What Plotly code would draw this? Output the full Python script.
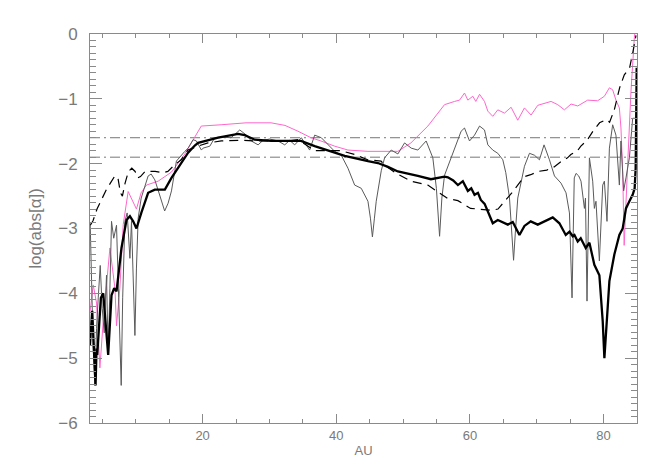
import plotly.graph_objects as go

# ---- data (AU, log|alpha|) ----
black_x = [3.14, 3.48, 3.98, 4.13, 4.23, 4.78, 5.13, 5.87, 6.37, 6.77, 7.12, 7.86, 8.61, 9.12, 9.61,
           10.1, 10.85, 11.85, 12.85, 14.35, 15.34, 17.34, 17.83, 18.83, 19.33, 22.32, 25.31, 26.31,
           27.8, 30.24, 32.79, 34.72, 36.77, 38.76, 41.26, 44.74, 46.23, 47.73, 49.22, 52.21, 54.16,
           56.2, 56.7, 57.5, 58.2, 58.94, 59.69, 60.2, 60.69, 61.2, 61.63, 62.2, 62.68, 63.42, 64.17,
           64.62, 65.67, 66.41, 67.41, 68.16, 69.1, 70.15, 71.15, 72.39, 73.39, 74.34, 74.9, 75.39,
           75.64, 76.13, 76.58, 77.33, 77.88, 78.62, 79.37, 79.87, 80.12, 80.46, 80.87, 81.61, 82.36,
           82.86, 83.35, 83.86, 84.35, 84.65, 84.8, 84.88, 84.95]
black_y = [-4.8, -4.27, -5.42, -4.85, -4.95, -4.07, -4.0, -4.95, -4.03, -3.92, -3.97, -3.3, -2.87, -2.81, -2.89,
           -3.0, -2.75, -2.45, -2.4, -2.4, -2.22, -1.91, -1.83, -1.72, -1.68, -1.6, -1.54, -1.56,
           -1.63, -1.65, -1.65, -1.65, -1.73, -1.8, -1.88, -1.96, -1.99, -2.05, -2.12, -2.19, -2.24,
           -2.2, -2.21, -2.26, -2.33, -2.27, -2.42, -2.38, -2.48, -2.45, -2.56, -2.62, -2.73, -2.92, -2.87,
           -2.89, -2.94, -2.9, -3.1, -2.96, -2.89, -2.94, -2.89, -2.83, -2.92, -3.1, -3.05, -3.12,
           -3.1, -3.2, -3.15, -3.3, -3.22, -3.56, -3.72, -4.43, -5.0, -4.43, -3.81, -3.4, -3.1,
           -3.0, -2.69, -2.58, -2.48, -2.38, -2.07, -1.3, -0.52]

gray_x = [3.18, 3.41, 3.63, 3.89, 4.13, 4.38, 4.68, 4.98, 5.28, 5.62, 5.87, 6.13, 6.37, 6.7, 7.12, 7.44,
          7.82, 8.04, 8.37, 8.71, 9.12, 9.36, 9.61, 9.87, 10.1, 10.36, 10.81, 11.36, 11.85, 12.3, 12.85,
          13.35, 13.84, 14.32, 14.84, 15.34, 15.84, 16.08, 17.34, 17.83, 18.58, 19.07, 19.82, 20.07,
          21.08, 21.82, 22.77, 24.26, 25.56, 26.55, 27.29, 28.3, 29.04, 30.04, 31.29, 32.29, 33.03,
          33.78, 34.77, 35.52, 36.02, 36.77, 37.76, 39.76, 40.75, 41.75, 42.75, 43.74, 44.74, 45.11,
          45.41, 45.71, 45.98, 46.73, 47.23, 48.22, 49.22, 50.22, 51.21, 52.21, 53.45, 54.45, 54.98,
          55.46, 55.8, 56.2, 57.19, 58.19, 58.68, 59.19, 59.94, 60.69, 61.44, 62.18, 62.68, 63.42,
          64.17, 64.92, 65.37, 65.92, 66.27, 66.53, 66.79, 67.16, 68.16, 68.91, 69.66, 70.4, 71.09,
          71.9, 72.65, 73.63, 74.38, 74.89, 75.28, 75.61, 75.88, 76.28, 76.62, 77.13, 77.29, 77.52,
          77.88, 78.37, 78.62, 78.86, 79.37, 79.87, 80.12, 80.51, 80.87, 81.36, 81.85, 82.36, 82.6,
          83.0, 83.35, 83.86, 84.35, 84.7, 84.95]
gray_y = [-2.92, -3.92, -4.85, -5.42, -4.54, -4.07, -3.57, -4.23, -4.61, -3.72, -4.95, -3.92, -2.89, -3.15, -2.95, -4.07,
          -5.42, -4.07, -2.89, -2.76, -3.46, -2.89, -3.61, -4.65, -3.61, -2.84, -2.53, -2.33, -2.19, -2.16, -2.25,
          -2.41, -2.58, -2.73, -2.61, -2.42, -2.11, -1.96, -1.81, -1.76, -1.63, -1.65, -1.79, -1.76,
          -1.73, -1.6, -1.59, -1.6, -1.48, -1.56, -1.65, -1.71, -1.64, -1.62, -1.65, -1.71, -1.64,
          -1.71, -1.6, -1.71, -1.79, -1.56, -1.6, -1.81, -1.87, -2.07, -2.33, -2.38, -2.58, -2.84,
          -3.13, -2.84, -2.58, -2.11, -1.91, -1.79, -1.85, -1.68, -1.76, -1.79, -1.65, -1.91, -2.38,
          -3.12, -2.53, -2.18, -1.91, -1.65, -1.5, -1.45, -1.65, -1.56, -1.42, -1.48, -1.71, -1.79,
          -1.84, -1.94, -2.14, -2.53, -3.07, -3.49, -3.07, -2.53, -2.04, -1.84, -1.87, -1.94, -1.71,
          -1.94, -2.19, -2.3, -2.45, -2.76, -4.07, -2.22, -2.15, -2.19, -2.27, -2.69, -2.53, -4.12,
          -1.91, -2.27, -2.69, -2.58, -3.5, -2.33, -2.27, -2.89, -1.76, -1.4, -1.56, -2.33, -1.65,
          -2.42, -2.22, -1.91, -1.3, -1.3, -1.3]

dash_x = [3.2, 3.6, 4.2, 4.9, 5.6, 6.2, 6.8, 7.3, 7.7, 8.0, 8.4, 8.9, 9.4, 9.9, 10.3, 10.7, 11.4, 12.9,
          14.1, 14.8, 15.8, 16.8, 17.8, 19.3, 20.8, 22.8, 24.3, 25.8, 27.8, 30.2, 32.8, 34.3, 35.8,
          36.8, 38.8, 40.7, 42.8, 44.7, 46.7, 47.2, 49.0, 51.2, 53.7, 55.0, 56.7, 58.2, 59.2, 60.1,
          61.2, 62.2, 63.2, 64.2, 65.2, 66.2, 67.6, 68.2, 69.1, 70.2, 71.5, 72.6, 73.6, 74.6, 75.1,
          76.1, 76.6, 77.6, 78.4, 79.4, 80.4, 80.9, 81.6, 82.4, 83.1, 83.9, 84.4, 84.85]
dash_y = [-2.95, -2.88, -2.7, -2.55, -2.4, -2.3, -2.2, -2.2, -2.45, -2.5, -2.3, -2.12, -2.07, -2.12, -2.22, -2.2, -2.12, -2.12,
          -2.14, -2.12, -2.02, -1.94, -1.79, -1.73, -1.68, -1.65, -1.64, -1.64, -1.65, -1.65, -1.65, -1.63, -1.73,
          -1.8, -1.8, -1.8, -1.86, -1.94, -1.96, -2.02, -2.15, -2.27, -2.33, -2.42, -2.54, -2.57, -2.64, -2.69,
          -2.7, -2.71, -2.72, -2.7, -2.58, -2.46, -2.27, -2.2, -2.17, -2.12, -2.1, -2.05, -1.97, -1.91, -1.86,
          -1.8, -1.73, -1.63, -1.5, -1.37, -1.32, -1.36, -1.17, -0.83, -0.63, -0.52, -0.27, -0.02]

pink_x = [3.14, 3.63, 4.13, 4.63, 5.13, 5.62, 6.13, 6.88, 7.12, 7.62, 8.12, 8.86, 9.61, 10.1, 10.8, 11.6,
          13.35, 15.34, 17.34, 18.83, 19.8, 22.77, 26.5, 30.24, 32.33, 34.28, 36.22, 37.71, 39.76,
          41.75, 44.74, 49.22, 51.17, 53.71, 56.2, 57.7, 58.45, 59.19, 59.69, 60.43, 60.88, 61.44,
          62.18, 62.68, 63.42, 64.17, 65.17, 66.16, 67.16, 68.16, 69.15, 70.15, 71.15, 72.14, 73.14,
          74.14, 75.13, 76.13, 77.62, 79.11, 80.12, 80.87, 81.36, 81.85, 82.36, 82.6, 82.86, 83.08,
          83.6, 84.1, 84.6, 84.84, 85.0]
pink_y = [-4.3, -3.87, -4.15, -5.15, -4.43, -3.81, -3.3, -3.92, -4.5, -3.92, -2.94, -2.43, -2.58, -2.7, -2.45, -2.33,
          -2.27, -2.13, -1.85, -1.6, -1.42, -1.4, -1.37, -1.37, -1.41, -1.5, -1.6, -1.65, -1.73,
          -1.79, -1.81, -1.81, -1.68, -1.42, -1.09, -1.04, -1.02, -0.91, -1.02, -0.96, -1.04, -0.93,
          -1.04, -1.19, -1.27, -1.17, -1.22, -1.13, -1.33, -1.14, -1.25, -1.1, -1.07, -1.04, -1.09,
          -1.17, -1.08, -1.11, -1.02, -1.03, -0.96, -0.83, -0.86, -1.02, -1.14, -1.45, -2.12, -3.26,
          -2.02, -0.88, -0.06, 0.1, 0.3]

ref_levels = [-1.6, -1.9]
x_range = [3.15, 85.0]
y_range = [-6.0, 0.0]
y_ticks = [-6, -5, -4, -3, -2, -1, 0]
y_ticktext = ["\u22126", "\u22125", "\u22124", "\u22123", "\u22122", "\u22121", "0"]
x_ticks = [20, 40, 60, 80]

AXIS = "#8a8a8a"
TXT = "#7a7a7a"

fig = go.Figure()
for lvl in ref_levels:
    fig.add_trace(go.Scatter(x=x_range, y=[lvl, lvl], mode="lines",
                             line=dict(color="#777777", width=1, dash="10px,4px,2px,4px"),
                             hoverinfo="skip", showlegend=False))
fig.add_trace(go.Scatter(x=pink_x, y=pink_y, mode="lines",
                         line=dict(color="#ff66cc", width=1), showlegend=False))
fig.add_trace(go.Scatter(x=gray_x, y=gray_y, mode="lines",
                         line=dict(color="#5a5a5a", width=1), showlegend=False))
fig.add_trace(go.Scatter(x=dash_x, y=dash_y, mode="lines",
                         line=dict(color="#000000", width=1.2, dash="9px,6px"), showlegend=False))
fig.add_trace(go.Scatter(x=black_x, y=black_y, mode="lines",
                         line=dict(color="#000000", width=2.3), showlegend=False))

fig.update_layout(
    template="none",
    width=654, height=467,
    margin=dict(l=82, r=25, t=26, b=52, autoexpand=False),
    paper_bgcolor="white", plot_bgcolor="white",
    font=dict(family="Liberation Sans, Arial, sans-serif", color=TXT),
    xaxis=dict(range=x_range, tickvals=x_ticks, ticks="inside", ticklen=9, tickcolor=AXIS,
               automargin=False,
               showline=True, linecolor=AXIS, linewidth=1, mirror="ticks",
               showgrid=False, zeroline=False, tickfont=dict(size=13, color=TXT),
               minor=dict(dtick=5, tick0=0, ticks="inside", ticklen=4, tickcolor=AXIS, showgrid=False),
               title=dict(text="AU", font=dict(size=13, color=TXT), standoff=4)),
    yaxis=dict(range=y_range, tickvals=y_ticks, ticktext=y_ticktext, ticks="inside", ticklen=12,
               automargin=False,
               tickcolor=AXIS, showline=True, linecolor=AXIS, linewidth=1, mirror="ticks",
               showgrid=False, zeroline=False, tickfont=dict(size=17, color=TXT),
               ticklabelstandoff=8,
               minor=dict(dtick=0.1, tick0=0, ticks="inside", ticklen=6, tickcolor=AXIS, showgrid=False),
               title=dict(text="log(abs[\u03b1])", font=dict(size=17, color=TXT), standoff=12)),
)

fig.write_html("out.html")
